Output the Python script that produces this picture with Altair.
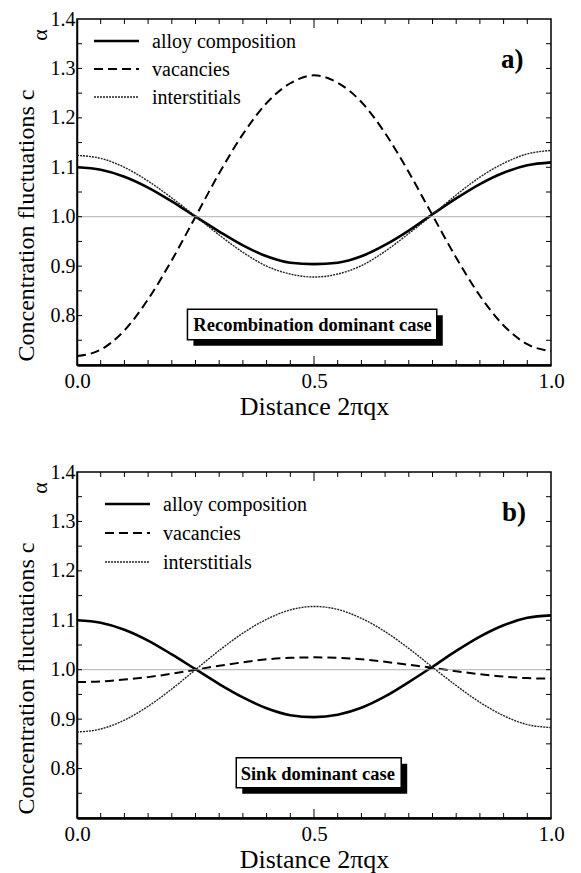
import altair as alt
import pandas as pd

# ---------------- data ----------------
x_vals = [0.00, 0.05, 0.10, 0.15, 0.20, 0.25, 0.30, 0.35, 0.40, 0.45, 0.50,
          0.55, 0.60, 0.65, 0.70, 0.75, 0.80, 0.85, 0.90, 0.95, 1.00]

# panel a) Recombination dominant case
a_alloy = [1.100, 1.095, 1.081, 1.059, 1.031, 1.000, 0.970, 0.942, 0.920, 0.907, 0.904,
           0.907, 0.920, 0.943, 0.972, 1.005, 1.037, 1.066, 1.089, 1.104, 1.110]
a_vac = [0.718, 0.731, 0.770, 0.833, 0.912, 1.000, 1.088, 1.167, 1.230, 1.270, 1.286,
         1.271, 1.232, 1.169, 1.090, 1.003, 0.917, 0.840, 0.780, 0.742, 0.728]
a_int = [1.124, 1.118, 1.100, 1.072, 1.038, 1.001, 0.963, 0.928, 0.900, 0.884, 0.878,
         0.884, 0.901, 0.930, 0.966, 1.004, 1.044, 1.080, 1.108, 1.127, 1.134]

# panel b) Sink dominant case
b_alloy = [1.100, 1.095, 1.081, 1.059, 1.031, 1.001, 0.971, 0.944, 0.922, 0.908, 0.904,
           0.909, 0.923, 0.946, 0.975, 1.006, 1.038, 1.067, 1.090, 1.105, 1.110]
b_vac = [0.975, 0.976, 0.980, 0.985, 0.992, 1.000, 1.008, 1.015, 1.021, 1.024, 1.025,
         1.024, 1.021, 1.016, 1.010, 1.004, 0.997, 0.991, 0.986, 0.983, 0.982]
b_int = [0.874, 0.880, 0.898, 0.926, 0.961, 1.000, 1.039, 1.074, 1.102, 1.121, 1.128,
         1.122, 1.104, 1.077, 1.043, 1.005, 0.968, 0.934, 0.907, 0.889, 0.883]

series_names = ["alloy composition", "vacancies", "interstitials"]
ref_level = [1.0]

x_label_values = [0.0, 0.5, 1.0]
y_label_values = [0.8, 0.9, 1.0, 1.1, 1.2, 1.3, 1.4]
x_minor = [0.05, 0.10, 0.15, 0.20, 0.25, 0.30, 0.35, 0.40, 0.45, 0.55,
           0.60, 0.65, 0.70, 0.75, 0.80, 0.85, 0.90, 0.95]
x_major = [0.5]
y_ticks = [0.75, 0.80, 0.85, 0.90, 0.95, 1.00, 1.05, 1.10, 1.15, 1.20,
           1.25, 1.30, 1.35]

# annotations (data coordinates)
a_note = {"text": "Recombination dominant case", "x1": 0.233, "x2": 0.759,
          "y1": 0.751, "y2": 0.813, "tx": 0.497, "ty": 0.781}
b_note = {"text": "Sink dominant case", "x1": 0.336, "x2": 0.684,
          "y1": 0.761, "y2": 0.822, "tx": 0.508, "ty": 0.790}
a_tag = {"text": "a)", "x": 0.918, "y": 1.318}
b_tag = {"text": "b)", "x": 0.922, "y": 1.318}

# ---------------- styling ----------------
W, H = 474, 346
FONT = "Liberation Serif"
styles = {
    "alloy composition": dict(color="black", strokeWidth=2.6),
    "vacancies": dict(color="black", strokeWidth=2.0, strokeDash=[9, 5]),
    "interstitials": dict(color="#222222", strokeWidth=1.4, strokeDash=[2, 1]),
}

xs = alt.Scale(domain=[0, 1], nice=False, zero=False)
ys = alt.Scale(domain=[0.7, 1.4], nice=False, zero=False)

ax_x = alt.Axis(
    values=x_label_values, format=".1f", title="Distance 2πqx",
    ticks=False, tickSize=0, grid=False, labelPadding=5, titlePadding=2,
    labelFontSize=21, titleFontSize=26, titleFontWeight="normal",
    labelFont=FONT, titleFont=FONT, domainWidth=2.5, domainColor="black",
    labelColor="black", titleColor="black", labelFlush=False)
ax_y = alt.Axis(
    values=y_label_values, format=".1f", title="Concentration fluctuations c",
    ticks=False, tickSize=0, grid=False, labelPadding=2,
    labelFontSize=20, titleFontSize=24, titleFontWeight="normal",
    labelFont=FONT, titleFont=FONT, domainWidth=1.5, domainColor="black",
    labelColor="black", titleColor="black", titleAngle=270,
    titleAlign="center", titleBaseline="alphabetic", titleX=-44, titleY=206)


def X(field):
    return alt.X(field, scale=xs, axis=ax_x, title="Distance 2πqx")


def Y(field):
    return alt.Y(field, scale=ys, axis=ax_y, title="Concentration fluctuations c")


def panel(curves, note, tag, leg_pos):
    layers = []
    # curves
    for name, vals in zip(series_names, curves):
        df = pd.DataFrame({"x": x_vals, "value": vals})
        layers.append(
            alt.Chart(df).mark_line(interpolate="monotone", **styles[name])
            .encode(x=X("x:Q"), y=Y("value:Q"))
        )
    # reference line at 1.0
    layers.append(
        alt.Chart(pd.DataFrame({"v": ref_level})).mark_rule(color="#9a9a9a", strokeWidth=0.8)
        .encode(y=Y("v:Q"))
    )
    # inward ticks
    ydf = pd.DataFrame({"v": y_ticks})
    xdf = pd.DataFrame({"v": x_minor})
    xmd = pd.DataFrame({"v": x_major})
    tick = dict(color="black", strokeWidth=1)
    layers += [
        alt.Chart(ydf).mark_rule(**tick).encode(y=Y("v:Q"), x=alt.value(0), x2=alt.value(5)),
        alt.Chart(ydf).mark_rule(**tick).encode(y=Y("v:Q"), x=alt.value(W - 5), x2=alt.value(W)),
        alt.Chart(xdf).mark_rule(**tick).encode(x=X("v:Q"), y=alt.value(H), y2=alt.value(H - 5)),
        alt.Chart(xdf).mark_rule(**tick).encode(x=X("v:Q"), y=alt.value(0), y2=alt.value(5)),
        alt.Chart(xmd).mark_rule(**tick).encode(x=X("v:Q"), y=alt.value(H), y2=alt.value(H - 9)),
        alt.Chart(xmd).mark_rule(**tick).encode(x=X("v:Q"), y=alt.value(0), y2=alt.value(9)),
    ]
    # legend drawn by hand
    lx0, ly0, dy = leg_pos
    for i, name in enumerate(series_names):
        ldf = pd.DataFrame({"s": [name]})
        layers.append(
            alt.Chart(ldf).mark_rule(**styles[name]).encode(
                x=alt.value(lx0), x2=alt.value(lx0 + 45), y=alt.value(ly0 + i * dy))
        )
        layers.append(
            alt.Chart(ldf).mark_text(align="left", baseline="middle", font=FONT,
                                     fontSize=20, color="black").encode(
                x=alt.value(lx0 + 58), y=alt.value(ly0 + i * dy + 1), text="s:N")
        )
    # annotation box with shadow
    ndf = pd.DataFrame({k: [v] for k, v in note.items()})
    layers += [
        alt.Chart(ndf).mark_rect(color="black", xOffset=6, x2Offset=6, yOffset=6, y2Offset=6)
        .encode(x=X("x1:Q"), x2="x2:Q", y=Y("y1:Q"), y2="y2:Q"),
        alt.Chart(ndf).mark_rect(fill="white", stroke="black", strokeWidth=1.5)
        .encode(x=X("x1:Q"), x2="x2:Q", y=Y("y1:Q"), y2="y2:Q"),
        alt.Chart(ndf).mark_text(font=FONT, fontSize=18.5, fontWeight="bold", color="black",
                                 baseline="middle")
        .encode(x=X("tx:Q"), y=Y("ty:Q"), text="text:N"),
    ]
    # panel tag
    tdf = pd.DataFrame({k: [v] for k, v in tag.items()})
    layers.append(
        alt.Chart(tdf).mark_text(font=FONT, fontSize=27, fontWeight="bold", color="black",
                                 baseline="middle")
        .encode(x=X("x:Q"), y=Y("y:Q"), text="text:N")
    )
    # subscript alpha of the y title
    layers.append(
        alt.Chart(pd.DataFrame({"s": ["α"]})).mark_text(
            font=FONT, fontSize=22, angle=270, color="black", baseline="alphabetic")
        .encode(x=alt.value(-30), y=alt.value(16), text="s:N")
    )
    return alt.layer(*layers).properties(width=W, height=H)


pa = panel([a_alloy, a_vac, a_int], a_note, a_tag, (17, 22, 28))
pb = panel([b_alloy, b_vac, b_int], b_note, b_tag, (28, 32, 29))

chart = (
    alt.vconcat(pa, pb, spacing=41)
    .properties(padding={"left": 5, "top": 0, "right": 0, "bottom": 0})
    .configure_view(stroke="black", strokeWidth=1.5)
)

chart.save("out.html", embed_options={"renderer": "svg", "actions": False})
